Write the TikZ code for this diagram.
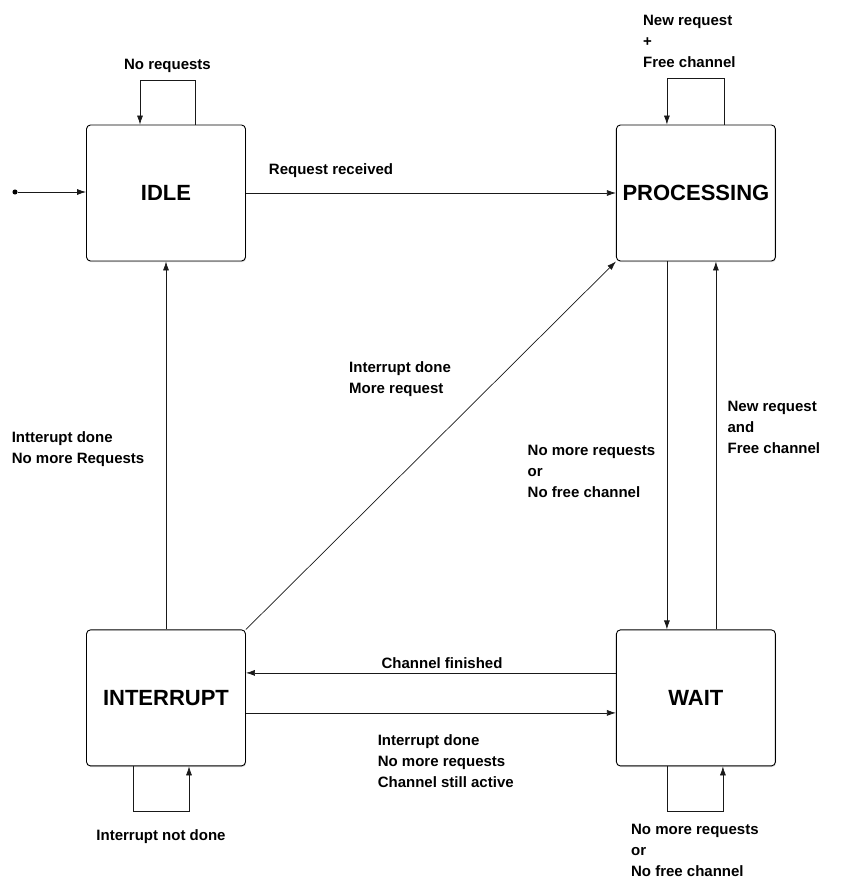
\documentclass[tikz,border=0pt]{standalone}
\usepackage{fontspec}
\setmainfont{Liberation Sans}
\usetikzlibrary{positioning,arrows.meta,shadows}

\begin{document}
\begin{tikzpicture}[x=1pt,y=-1pt]
\tikzstyle{statebox}=[rectangle, rounded corners=4pt, draw=black, line width=0.9pt, fill=white, minimum width=159pt, minimum height=136pt, font=\bfseries\fontsize{22}{26}\selectfont, drop shadow={opacity=0.3, shadow xshift=0.6pt, shadow yshift=-1.2pt}]
\tikzstyle{connect}=[-{Latex[length=9pt,width=6pt]}, line width=0.7pt, draw=black!90]
\tikzstyle{lbl}=[font=\bfseries\fontsize{15}{21}\selectfont, align=left, text=black]

\useasboundingbox (0,0) rectangle (843,891);

%% States
  \node[statebox] (idle) at (166,193) {IDLE};
  \node[statebox] (proc) [right=370pt of idle] {PROCESSING};
  \node[statebox] (intr) [below=368pt of idle] {INTERRUPT};
  \node[statebox] (wait) [right=370pt of intr] {WAIT};
  \node[circle, fill=black, inner sep=1.8pt] (start) at (15,192) {};

%% Idle
  \draw[connect] (start) -- (start -| idle.west);
  \draw[connect] ([xshift=29pt]idle.north) -- ++(0,-44)
     -- node[lbl, above=4pt] {No requests} ++(-55,0) -- ([xshift=-26pt]idle.north);
  \draw[connect] (idle) -- node[lbl, above=12pt, pos=0.23] {Request received} (proc);

%% Processing
  \draw[connect] ([xshift=28pt]proc.north) -- ++(0,-46)
     -- node[lbl, above=7pt, xshift=-6pt] {New request\\+\\Free channel} ++(-57,0) -- ([xshift=-29pt]proc.north);
  \draw[connect] ([xshift=-29pt]proc.south) -- node[lbl, left=8pt, pos=0.57] {No more requests\\or\\No free channel} ([xshift=-29pt]wait.north);

%% Wait
  \draw[connect] ([xshift=20pt]wait.north) -- node[lbl, right=8pt, pos=0.55] {New request\\and\\Free channel} ([xshift=20pt]proc.south);
  \draw[connect] ([xshift=-29pt]wait.south) -- ++(0,45)
     -- node[lbl, below=9pt] {No more requests\\or\\No free channel} ++(56,0) -- ([xshift=27pt]wait.south);
  \draw[connect] ([yshift=25pt]wait.west) -- node[lbl, above=1pt, pos=0.47] {Channel finished} ([yshift=25pt]intr.east);

%% Interrupt
  \draw[connect] ([yshift=-15pt]intr.east) -- node[lbl, below=18pt, pos=0.54] {Interrupt done\\No more requests\\Channel still active} ([yshift=-15pt]wait.west);
  \draw[connect] ([xshift=-33pt]intr.south) -- ++(0,45)
     -- node[lbl, below=15pt] {Interrupt not done} ++(56,0) -- ([xshift=23pt]intr.south);
  \draw[connect] (intr) -- node[lbl, left=18pt, pos=0.49] {Intterupt done\\No more Requests} (idle);
  \draw[connect] (intr.north east) -- node[lbl, pos=0.68, left=43pt] {Interrupt done\\More request} (proc.south west);
\end{tikzpicture}
\end{document}
